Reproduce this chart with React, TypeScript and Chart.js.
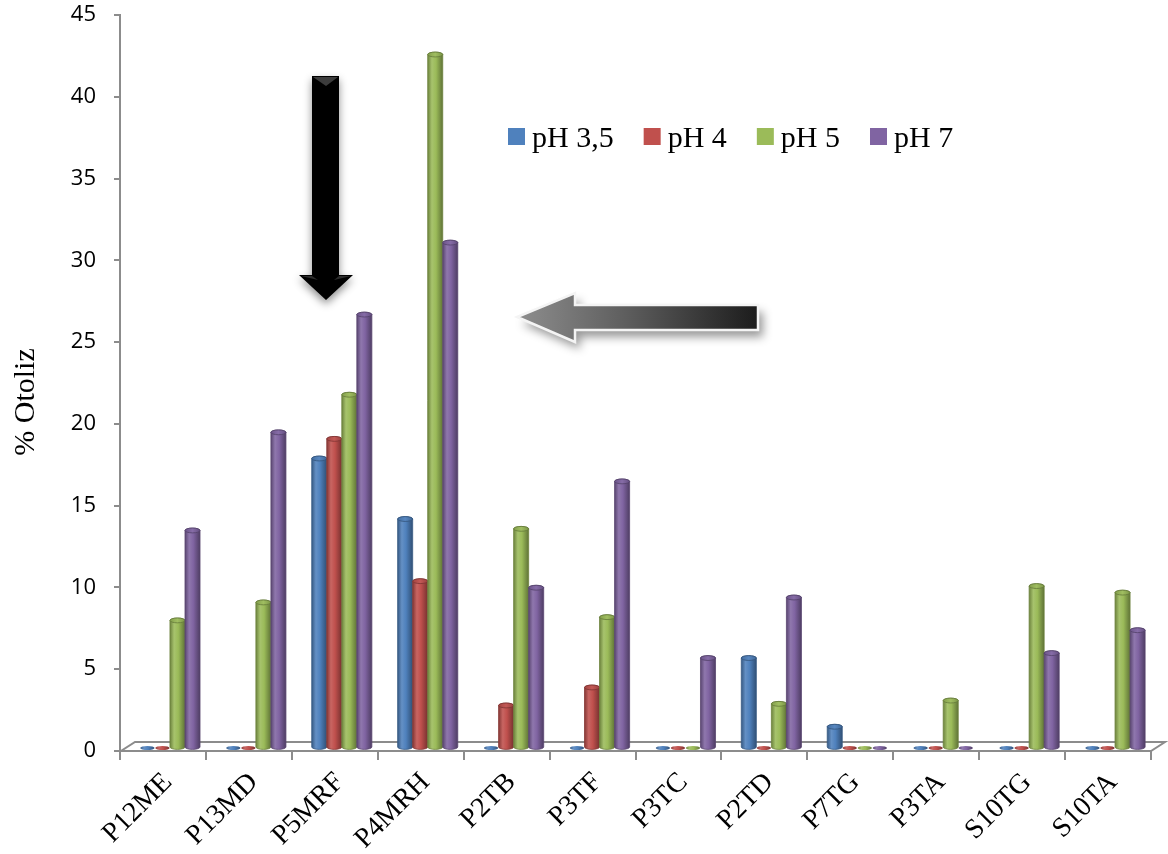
import React, { useEffect, useRef } from "react";
import { Chart, registerables } from "chart.js";

Chart.register(...registerables);

// Isolate codes along the category axis
const categories = [
  "P12ME", "P13MD", "P5MRF", "P4MRH", "P2TB", "P3TF",
  "P3TC", "P2TD", "P7TG", "P3TA", "S10TG", "S10TA",
];

// Series names and % otolysis per isolate
const seriesLabels = ["pH 3,5", "pH 4", "pH 5", "pH 7"];
const ph35 = [0, 0, 17.7, 14.0, 0, 0, 0, 5.5, 1.3, 0, 0, 0];
const ph4 = [0, 0, 18.9, 10.2, 2.6, 3.7, 0, 0, 0, 0, 0, 0];
const ph5 = [7.8, 8.9, 21.6, 42.4, 13.4, 8.0, 0, 2.7, 0, 2.9, 9.9, 9.5];
const ph7 = [13.3, 19.3, 26.5, 30.9, 9.8, 16.3, 5.5, 9.2, 0, 0, 5.8, 7.2];
const seriesValues = [ph35, ph4, ph5, ph7];
const seriesColors = ["#4F81BD", "#C0504D", "#9BBB59", "#8064A2"];

// Value axis
const yMin = 0;
const yMax = 45;
const yStep = 5;
const yTitle = "% Otoliz";

const AXIS_GREY = "#8c8c8c";
const SERIF = '"Liberation Serif", "Times New Roman", serif';
const SANS = '"Open Sans", "Noto Sans", sans-serif';

// 3D depth of the floor and where the bars sit within it
const FLOOR_DX = 14;
const FLOOR_DY = -9;
const BAR_DX = 7;
const BAR_DY = -3;

// y tick marks: visible stub next to the axis, labels set further out
const Y_TICK_VISIBLE = 6;
const Y_LABEL_GAP = 18;

function shade(hex: string, amt: number): string {
  const n = parseInt(hex.slice(1), 16);
  let r = n >> 16;
  let g = (n >> 8) & 255;
  let b = n & 255;
  const t = amt < 0 ? 0 : 255;
  const p = Math.abs(amt);
  r = Math.round(r + (t - r) * p);
  g = Math.round(g + (t - g) * p);
  b = Math.round(b + (t - b) * p);
  return `rgb(${r},${g},${b})`;
}

function drawCylinder(
  ctx: CanvasRenderingContext2D,
  cx: number,
  top: number,
  base: number,
  w: number,
  color: string
) {
  const rx = w / 2;
  const ry = Math.max(2, w * 0.16);
  const left = cx - rx;
  const right = cx + rx;
  const grad = ctx.createLinearGradient(left, 0, right, 0);
  grad.addColorStop(0, shade(color, -0.3));
  grad.addColorStop(0.28, shade(color, 0.12));
  grad.addColorStop(0.55, color);
  grad.addColorStop(1, shade(color, -0.38));

  if (base - top < 0.5) {
    // zero value: only the flat disc on the floor
    ctx.beginPath();
    ctx.ellipse(cx, base, rx * 0.95, ry * 0.85, 0, 0, Math.PI * 2);
    ctx.fillStyle = grad;
    ctx.fill();
    return;
  }

  ctx.beginPath();
  ctx.moveTo(left, top);
  ctx.lineTo(left, base);
  ctx.ellipse(cx, base, rx, ry, 0, Math.PI, 0, true);
  ctx.lineTo(right, top);
  ctx.ellipse(cx, top, rx, ry, 0, 0, Math.PI, true);
  ctx.closePath();
  ctx.fillStyle = grad;
  ctx.fill();
  ctx.strokeStyle = shade(color, -0.3);
  ctx.lineWidth = 0.8;
  ctx.stroke();

  // top cap
  ctx.beginPath();
  ctx.ellipse(cx, top, rx, ry, 0, 0, Math.PI * 2);
  const capGrad = ctx.createLinearGradient(left, 0, right, 0);
  capGrad.addColorStop(0, shade(color, -0.15));
  capGrad.addColorStop(0.5, shade(color, 0.05));
  capGrad.addColorStop(1, shade(color, -0.2));
  ctx.fillStyle = capGrad;
  ctx.fill();
  ctx.strokeStyle = shade(color, -0.35);
  ctx.lineWidth = 0.8;
  ctx.stroke();
}

function drawDownArrow(ctx: CanvasRenderingContext2D) {
  const pts: [number, number][] = [
    [312, 76], [339, 76], [339, 275], [353, 275], [326, 300], [299, 275], [312, 275],
  ];
  ctx.save();
  ctx.beginPath();
  pts.forEach(([x, y], i) => (i === 0 ? ctx.moveTo(x, y) : ctx.lineTo(x, y)));
  ctx.closePath();
  ctx.shadowColor = "rgba(0,0,0,0.45)";
  ctx.shadowBlur = 8;
  ctx.shadowOffsetY = 4;
  ctx.fillStyle = "#000";
  ctx.fill();
  ctx.restore();

  // bevel highlights
  ctx.save();
  ctx.fillStyle = "#3c3c3c";
  ctx.beginPath();
  ctx.moveTo(313, 77);
  ctx.lineTo(338, 77);
  ctx.lineTo(326, 86);
  ctx.closePath();
  ctx.fill();
  ctx.fillStyle = "#2c2c2c";
  ctx.beginPath();
  ctx.moveTo(301, 276);
  ctx.lineTo(312, 276);
  ctx.lineTo(318, 280);
  ctx.closePath();
  ctx.fill();
  ctx.beginPath();
  ctx.moveTo(351, 276);
  ctx.lineTo(339, 276);
  ctx.lineTo(334, 280);
  ctx.closePath();
  ctx.fill();
  ctx.restore();
}

function drawLeftArrow(ctx: CanvasRenderingContext2D) {
  const pts: [number, number][] = [
    [517, 317], [575, 293], [575, 305], [758, 305], [758, 330], [575, 330], [575, 342],
  ];
  const path = () => {
    ctx.beginPath();
    pts.forEach(([x, y], i) => (i === 0 ? ctx.moveTo(x, y) : ctx.lineTo(x, y)));
    ctx.closePath();
  };
  ctx.save();
  path();
  ctx.shadowColor = "rgba(0,0,0,0.4)";
  ctx.shadowBlur = 10;
  ctx.shadowOffsetX = 5;
  ctx.shadowOffsetY = 7;
  const g = ctx.createLinearGradient(517, 0, 758, 0);
  g.addColorStop(0, "#8e8e8e");
  g.addColorStop(0.45, "#5e5e5e");
  g.addColorStop(1, "#1c1c1c");
  ctx.fillStyle = g;
  ctx.fill();
  ctx.restore();
  ctx.save();
  path();
  ctx.strokeStyle = "#f4f4f4";
  ctx.lineWidth = 2.5;
  ctx.lineJoin = "miter";
  ctx.stroke();
  ctx.restore();
}

const chart3dPlugin = {
  id: "chart3d",
  beforeDatasetsDraw(chart: any) {
    const { ctx, chartArea } = chart;
    const { left, right, bottom } = chartArea;
    ctx.save();
    ctx.beginPath();
    ctx.moveTo(left + 1, bottom);
    ctx.lineTo(right, bottom);
    ctx.lineTo(right + FLOOR_DX, bottom + FLOOR_DY);
    ctx.lineTo(left + 1 + FLOOR_DX, bottom + FLOOR_DY);
    ctx.closePath();
    ctx.fillStyle = "#ffffff";
    ctx.fill();
    ctx.strokeStyle = AXIS_GREY;
    ctx.lineWidth = 2;
    ctx.stroke();
    ctx.restore();
  },
  beforeDatasetDraw() {
    return false;
  },
  afterDatasetsDraw(chart: any) {
    const { ctx } = chart;
    ctx.save();
    const n = chart.data.labels.length;
    for (let i = 0; i < n; i++) {
      chart.data.datasets.forEach((ds: any, di: number) => {
        const meta = chart.getDatasetMeta(di);
        const el = meta.data[i];
        if (!el) return;
        const p = el.getProps(["x", "y", "base", "width"], true);
        drawCylinder(ctx, p.x + BAR_DX, p.y + BAR_DY, p.base + BAR_DY, p.width, ds.backgroundColor);
      });
    }
    ctx.restore();
  },
  afterDraw(chart: any) {
    const { ctx } = chart;

    drawDownArrow(ctx);
    drawLeftArrow(ctx);

    // legend
    ctx.save();
    ctx.font = `30px ${SERIF}`;
    ctx.textBaseline = "alphabetic";
    ctx.textAlign = "left";
    let x = 508;
    chart.data.datasets.forEach((ds: any) => {
      ctx.fillStyle = ds.backgroundColor;
      ctx.fillRect(x, 128, 17, 17);
      ctx.fillStyle = "#000";
      ctx.fillText(ds.label, x + 24, 147);
      x += 24 + ctx.measureText(ds.label).width + 30;
    });
    ctx.restore();

    // value-axis title
    ctx.save();
    ctx.translate(34, 402);
    ctx.rotate(-Math.PI / 2);
    ctx.font = `30px ${SERIF}`;
    ctx.fillStyle = "#000";
    ctx.textAlign = "center";
    ctx.textBaseline = "alphabetic";
    ctx.fillText(yTitle, 0, 0);
    ctx.restore();
  },
};

export default function App() {
  const canvasRef = useRef<HTMLCanvasElement | null>(null);

  useEffect(() => {
    const canvas = canvasRef.current;
    if (!canvas) return;
    const chart = new Chart(canvas, {
      type: "bar",
      data: {
        labels: categories,
        datasets: seriesLabels.map((label, i) => ({
          label,
          data: seriesValues[i],
          backgroundColor: seriesColors[i],
          borderWidth: 0,
          categoryPercentage: 0.7,
          barPercentage: 1,
        })),
      },
      options: {
        responsive: false,
        animation: false,
        devicePixelRatio: 1,
        layout: { padding: { left: 0, top: 15, right: 17, bottom: 0 } },
        plugins: {
          legend: { display: false },
          tooltip: { enabled: false },
          title: { display: false },
        },
        scales: {
          x: {
            offset: true,
            grid: {
              display: true,
              offset: true,
              drawOnChartArea: false,
              drawTicks: true,
              tickLength: 9,
              color: AXIS_GREY,
              lineWidth: 2,
            },
            border: { display: true, color: AXIS_GREY, width: 2 },
            ticks: {
              autoSkip: false,
              maxRotation: 45,
              minRotation: 45,
              color: "#000",
              padding: 6,
              labelOffset: 5,
              font: { family: SERIF, size: 28 },
            },
            afterFit: (s: any) => {
              s.height = 103;
            },
          },
          y: {
            min: yMin,
            max: yMax,
            ticks: {
              stepSize: yStep,
              color: "#000",
              padding: 0,
              font: { family: SANS, size: 22 },
            },
            grid: {
              drawOnChartArea: false,
              tickLength: Y_TICK_VISIBLE + Y_LABEL_GAP,
              tickBorderDash: [0, Y_LABEL_GAP, 100],
              color: AXIS_GREY,
              lineWidth: 2,
            },
            border: { display: true, color: AXIS_GREY, width: 2 },
            afterFit: (s: any) => {
              s.width = 120;
            },
          },
        },
      } as any,
      plugins: [chart3dPlugin as any],
    });
    return () => chart.destroy();
  }, []);

  return (
    <canvas
      ref={canvasRef}
      width={1168}
      height={854}
      style={{ position: "absolute", left: 0, top: 0, background: "#fff" }}
    />
  );
}
